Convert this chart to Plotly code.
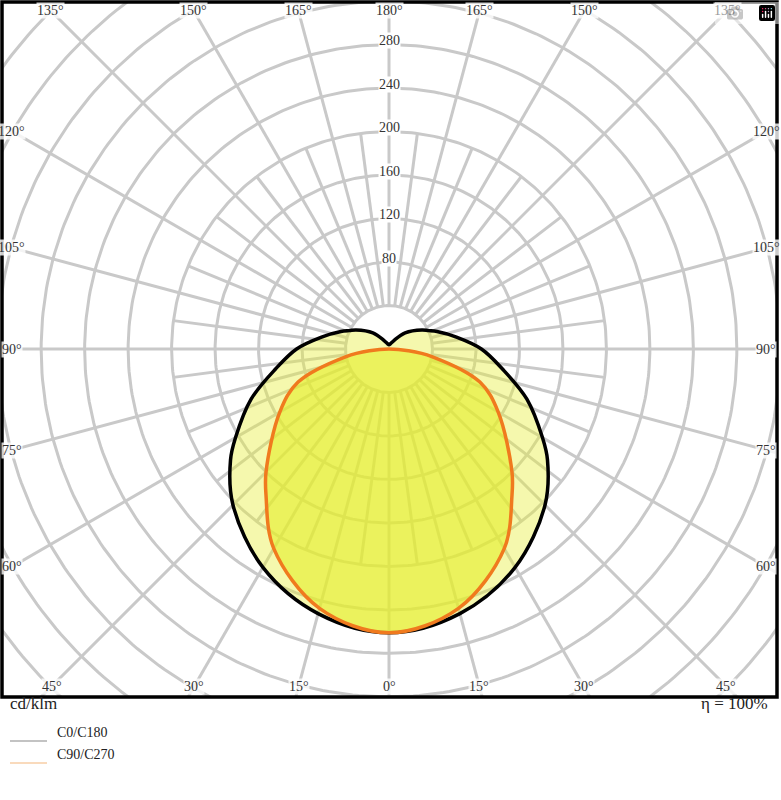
import numpy as np
import plotly.graph_objects as go

# Luminous intensity (cd/klm), gamma measured from nadir (0 = down), symmetric
c0_angles = [0, 15, 30, 45, 55, 60, 70, 80, 90, 100, 110, 115, 120, 135, 150, 165, 180]
c0_values = [261, 252, 232, 203, 178, 163, 135, 106, 85, 63, 47, 40, 35, 21, 9, 5, 4]
c90_angles = [0, 15, 30, 40, 45, 60, 70, 80, 85, 90]
c90_values = [261, 247, 212, 176, 160, 116, 89, 40, 18, 0]

ring_values = list(range(40, 520, 40))
ring_labels = [80, 120, 160, 200, 240, 280]
angle_labels = [0, 15, 30, 45, 60, 75, 90, 105, 120, 135, 150, 165, 180]

SCALE = 1.087  # px per cd/klm
XR = [-387 / SCALE, (775 - 387) / SCALE]
YR = [-(695 - 347) / SCALE, 347 / SCALE]


def to_xy(angles, values, side=1):
    a = np.radians(np.asarray(angles, float))
    v = np.asarray(values, float)
    return side * v * np.sin(a), -v * np.cos(a)


def closed_curve(angles, values):
    xr, yr = to_xy(angles, values, 1)
    xl, yl = to_xy(angles[::-1], values[::-1], -1)
    return np.concatenate([xr, xl[1:]]), np.concatenate([yr, yl[1:]])


fig = go.Figure()
grid = dict(color="#c9c9c9", width=3)

t = np.linspace(0, 2 * np.pi, 361)
for r in ring_values:
    fig.add_trace(go.Scatter(x=r * np.cos(t), y=r * np.sin(t), mode="lines",
                             line=grid, hoverinfo="skip", showlegend=False))
for a in np.arange(0, 360, 7.5):
    outer = 560 if a % 15 == 0 else 200
    x, y = to_xy([a, a], [40, outer])
    fig.add_trace(go.Scatter(x=x, y=y, mode="lines", line=grid,
                             hoverinfo="skip", showlegend=False))

x0, y0 = closed_curve(c0_angles, c0_values)
fig.add_trace(go.Scatter(x=x0, y=y0, mode="lines", fill="toself", line_shape="spline",
                         fillcolor="rgba(230,238,60,0.42)",
                         line=dict(color="black", width=3.5, smoothing=1), name="C0/C180"))
x9, y9 = closed_curve(c90_angles, c90_values)
fig.add_trace(go.Scatter(x=x9, y=y9, mode="lines", fill="toself", line_shape="spline",
                         fillcolor="rgba(228,238,40,0.6)",
                         line=dict(color="#f07a1e", width=3.5, smoothing=1), name="C90/C270"))

ann = []
lab_font = dict(family="Liberation Serif", size=14, color="#333")
for v in ring_labels:
    ann.append(dict(x=0, y=v, text=str(v), showarrow=False, font=lab_font,
                    bgcolor="white", borderpad=0, yshift=4))

# angle labels at the frame edges
ex, ey = XR[1] - 10, YR[1] - 8
for a in angle_labels:
    rad = np.radians(a)
    s, c = np.sin(rad), -np.cos(rad)
    for side in ([1] if a in (0, 180) else [1, -1]):
        dx, dy = side * s, c
        k = min(ex / abs(dx) if abs(dx) > 1e-9 else 1e9,
                (ey if dy > 0 else -YR[0] - 10) / abs(dy) if abs(dy) > 1e-9 else 1e9)
        ann.append(dict(x=dx * k, y=dy * k, text=f"{a}°", showarrow=False,
                        font=lab_font, bgcolor="rgba(255,255,255,0.8)", borderpad=0))

txt = dict(family="Liberation Serif", size=17, color="#222")
small = dict(family="Liberation Serif", size=14, color="#222")
bottom = [
    dict(x=8, y=715, text="cd/klm", xanchor="left", font=txt),
    dict(x=770, y=715, text="η = 100%", xanchor="right", font=txt),
    dict(x=55, y=742, text="C0/C180", xanchor="left", font=small),
    dict(x=55, y=764, text="C90/C270", xanchor="left", font=small),
]
for a in bottom:
    a.update(xref="paper", yref="paper", showarrow=False,
             x=(a["x"] - 2) / 775, y=(697 - a["y"]) / 695)
ann += bottom

shapes = [
    dict(type="rect", xref="paper", yref="paper", x0=0, x1=1, y0=0, y1=1,
         line=dict(color="black", width=3.5)),
    dict(type="line", xref="paper", yref="paper", x0=8 / 775, x1=45 / 775,
         y0=(697 - 741) / 695, y1=(697 - 741) / 695, line=dict(color="#888", width=1.2)),
    dict(type="line", xref="paper", yref="paper", x0=8 / 775, x1=45 / 775,
         y0=(697 - 763) / 695, y1=(697 - 763) / 695, line=dict(color="#f3b57a", width=1.2)),
]

fig.update_layout(
    width=781, height=800, margin=dict(l=2, r=4, t=2, b=103),
    plot_bgcolor="white", paper_bgcolor="white", showlegend=False,
    xaxis=dict(range=XR, visible=False, fixedrange=True),
    yaxis=dict(range=YR, visible=False, fixedrange=True),
    annotations=ann, shapes=shapes,
)
fig.write_html("out.html", post_script="document.body.style.margin='0';document.body.style.overflow='hidden';")
